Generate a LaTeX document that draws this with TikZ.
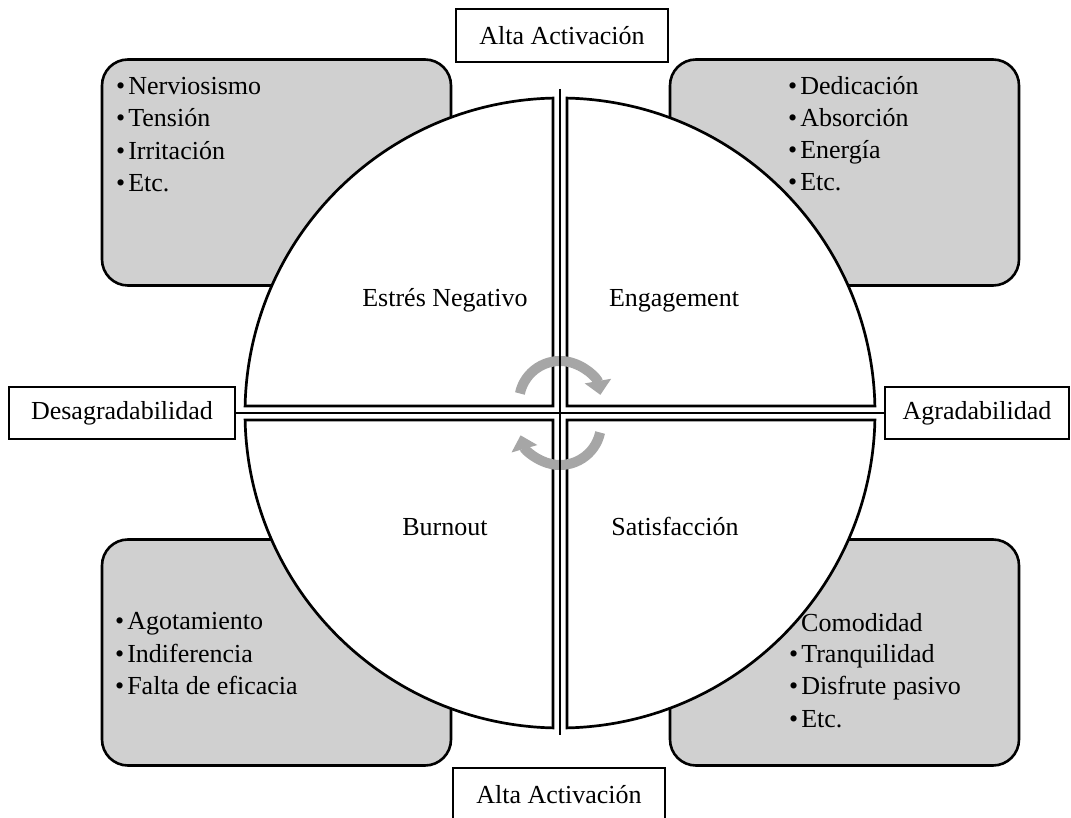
\documentclass[tikz,border=0pt]{standalone}
\usepackage{fontspec}
\setmainfont{Liberation Serif}
\usetikzlibrary{arrows.meta,calc}
\definecolor{panelgray}{HTML}{D0D0D0}
\definecolor{arrowgray}{HTML}{A6A6A6}

\begin{document}
\begin{tikzpicture}[
  x=1pt, y=1pt,
  font=\fontsize{26}{31}\selectfont,
  panel/.style={draw,line width=2.6pt,fill=panelgray,rounded corners=26pt,minimum width=349pt,minimum height=226pt},
  quad/.style={draw,line width=2.7pt,fill=white},
  axisbox/.style={draw,line width=1.4pt,minimum height=53pt,inner sep=0pt},
  item/.style={anchor=base west,inner sep=0pt},
  quadname/.style={anchor=base,inner sep=0pt},
  axis/.style={line width=1.6pt},
  cycarrow/.style={draw=arrowgray,line width=10pt,-{Triangle[width=26pt,length=14pt]}}
]
  \useasboundingbox (0,0) rectangle (1071,817);
  \coordinate (c) at (560,404);
  \coordinate (vtop) at (560,728);
  \coordinate (vbot) at (560,82);

  % grey panels behind the circle
  \node[panel] (tlbox) at (276.5,644.5) {};
  \node[panel] (trbox) at (844.5,644.5) {};
  \node[panel] (blbox) at (276.5,164.5) {};
  \node[panel] (brbox) at (844.5,164.5) {};

  % the four quarters
  \draw[quad] ($(c)+(7,7)$) -- ($(c)+(1.27:315)$) arc[start angle=1.27,end angle=88.73,radius=315] -- cycle;
  \draw[quad] ($(c)+(-7,7)$) -- ($(c)+(91.27:315)$) arc[start angle=91.27,end angle=178.73,radius=315] -- cycle;
  \draw[quad] ($(c)+(-7,-7)$) -- ($(c)+(181.27:315)$) arc[start angle=181.27,end angle=268.73,radius=315] -- cycle;
  \draw[quad] ($(c)+(7,-7)$) -- ($(c)+(271.27:315)$) arc[start angle=271.27,end angle=358.73,radius=315] -- cycle;

  % turning arrows
  \draw[cycarrow] ($(c)+(0,11)+(168:41)$) arc[start angle=168,end angle=10,radius=41];
  \draw[cycarrow] ($(c)+(0,-11)+(-12:41)$) arc[start angle=-12,end angle=-164,radius=41];

  % axis boxes
  \node[axisbox,minimum width=212pt] (hightop) at (562,781.5) {Alta Activación};
  \node[axisbox,minimum width=212pt] (highbot) at (559,22.5) {Alta Activación};
  \node[axisbox,minimum width=226pt,minimum height=52pt] (desag) at (122,404) {Desagradabilidad};
  \node[axisbox,minimum width=184pt,minimum height=52pt] (agrad) at (977,404) {Agradabilidad};

  \draw[axis] (desag.east) -- (agrad.west);
  \draw[axis] (vtop) -- (vbot);

  % quarter names
  \node[quadname] (estres) at (445,510) {Estrés Negativo};
  \node[quadname] (engage) at (674,510) {Engagement};
  \node[quadname] (burn) at (445,281) {Burnout};
  \node[quadname] (satis) at (675,281) {Satisfacción};

  % panel lists
  \node[item] (tl1) at (116,722) {•\hspace{3pt}Nerviosismo};
  \node[item] (tl2) at (116,690) {•\hspace{3pt}Tensión};
  \node[item] (tl3) at (116,657) {•\hspace{3pt}Irritación};
  \node[item] (tl4) at (116,625) {•\hspace{3pt}Etc.};

  \node[item] (tr1) at (788,722) {•\hspace{3pt}Dedicación};
  \node[item] (tr2) at (788,690) {•\hspace{3pt}Absorción};
  \node[item] (tr3) at (788,658) {•\hspace{3pt}Energía};
  \node[item] (tr4) at (788,626) {•\hspace{3pt}Etc.};

  \node[item] (bl1) at (115,187) {•\hspace{3pt}Agotamiento};
  \node[item] (bl2) at (115,154) {•\hspace{3pt}Indiferencia};
  \node[item] (bl3) at (115,122) {•\hspace{3pt}Falta de eficacia};

  \node[item] (br1) at (801,185) {Comodidad};
  \node[item] (br2) at (789,154) {•\hspace{3pt}Tranquilidad};
  \node[item] (br3) at (789,122) {•\hspace{3pt}Disfrute pasivo};
  \node[item] (br4) at (789,90) {•\hspace{3pt}Etc.};
\end{tikzpicture}
\end{document}
